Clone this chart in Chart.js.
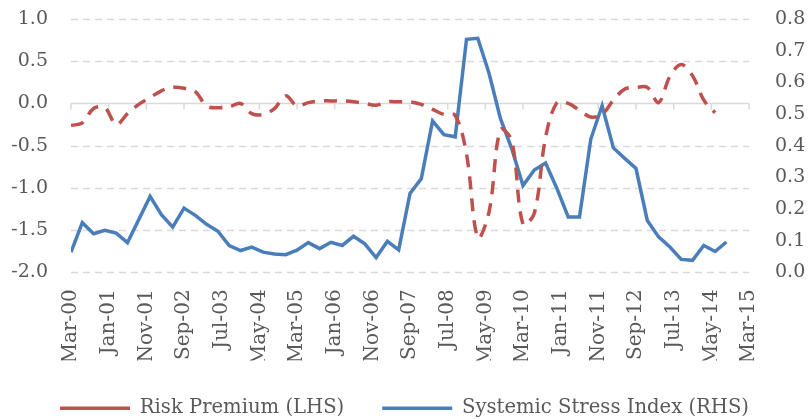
<!DOCTYPE html>
<html>
<head>
<meta charset="utf-8">
<script src="https://cdn.jsdelivr.net/npm/chart.js@4/dist/chart.umd.min.js"></script>
<style>
    body { margin: 0; background: #fff; }
    #wrap { width: 809px; height: 420px; }
</style>
</head>
<body>
<div id="wrap"><canvas id="stressChart" width="809" height="420"></canvas></div>
<script>
// quarterly observations, Mar-00 .. Sep-14
const tickLabels = ['Mar-00', 'Jan-01', 'Nov-01', 'Sep-02', 'Jul-03', 'May-04', 'Mar-05', 'Jan-06', 'Nov-06', 'Sep-07',
    'Jul-08', 'May-09', 'Mar-10', 'Jan-11', 'Nov-11', 'Sep-12', 'Jul-13', 'May-14', 'Mar-15'];

// Risk Premium (LHS)
const riskPremium = [-0.26, -0.23, -0.06, -0.05, -0.25, -0.12, -0.01, 0.07, 0.15, 0.19,
    0.18, 0.14, -0.03, -0.05, -0.04, 0.00, -0.12, -0.13, -0.06, 0.09,
    -0.03, 0.01, 0.03, 0.03, 0.03, 0.02, 0.00, -0.02, 0.02, 0.02,
    0.02, -0.01, -0.07, -0.13, -0.14, -0.60, -1.59, -1.28, -0.31, -0.44,
    -1.43, -1.30, -0.40, 0.01, 0.00, -0.08, -0.16, -0.13, 0.04, 0.17,
    0.19, 0.19, 0.01, 0.32, 0.46, 0.33, 0.04, -0.11, null];

// Systemic Stress Index (RHS)
const stressIndex = [0.064, 0.157, 0.122, 0.133, 0.124, 0.094, 0.167, 0.240, 0.182, 0.143,
    0.203, 0.180, 0.152, 0.130, 0.085, 0.069, 0.080, 0.064, 0.058, 0.056,
    0.070, 0.094, 0.075, 0.095, 0.085, 0.114, 0.090, 0.047, 0.098, 0.071,
    0.249, 0.296, 0.478, 0.435, 0.428, 0.736, 0.739, 0.628, 0.486, 0.391,
    0.274, 0.323, 0.345, 0.265, 0.175, 0.175, 0.421, 0.526, 0.393, 0.360,
    0.328, 0.164, 0.112, 0.080, 0.041, 0.038, 0.085, 0.066, 0.096];

const monthsPerObs = 3;
const fontFam = '"DejaVu Serif", serif';
const textColor = '#595959';
const gridColor = '#d9d9d9';

// months since Mar-00 as x
const toPoints = arr => arr.map((v, i) => ({x: i * monthsPerObs, y: v}));

// dashed gridlines + solid zero line with tick marks (excel style)
const excelGrid = {
    id: 'excelGrid',
    beforeDatasetsDraw(chart) {
        const {ctx, chartArea, scales} = chart;
        ctx.save();
        ctx.strokeStyle = gridColor;
        ctx.lineWidth = 1.5;
        ctx.setLineDash([7, 5]);
        ctx.beginPath();
        scales.y.ticks.forEach(t => {
            if (t.value === 0) return;
            const py = Math.round(scales.y.getPixelForValue(t.value)) + 0.5;
            ctx.moveTo(chartArea.left, py);
            ctx.lineTo(chartArea.right, py);
        });
        ctx.stroke();

        // x axis sits on zero of the LHS
        ctx.setLineDash([]);
        const y0 = Math.round(scales.y.getPixelForValue(0)) + 0.5;
        ctx.beginPath();
        ctx.moveTo(chartArea.left, y0);
        ctx.lineTo(chartArea.right, y0);
        scales.x.ticks.forEach(t => {
            const px = scales.x.getPixelForValue(t.value);
            ctx.moveTo(px, y0);
            ctx.lineTo(px, y0 + 6);
        });
        ctx.stroke();
        ctx.restore();
    }
};

const noPad = s => { s.paddingTop = 0; s.paddingBottom = 0; };

new Chart(document.getElementById('stressChart'), {
    type: 'line',
    data: {
        datasets: [{
            label: 'Risk Premium (LHS)',
            data: toPoints(riskPremium),
            yAxisID: 'y',
            borderColor: '#c0504d',
            backgroundColor: '#c0504d',
            borderWidth: 3.5,
            borderDash: [13, 9],
            tension: 0.35,
            pointRadius: 0
        }, {
            label: 'Systemic Stress Index (RHS)',
            data: toPoints(stressIndex),
            yAxisID: 'y1',
            borderColor: '#4a7ebb',
            backgroundColor: '#4a7ebb',
            borderWidth: 3.5,
            tension: 0,
            pointRadius: 0
        }]
    },
    options: {
        responsive: false,
        animation: false,
        devicePixelRatio: 1,
        layout: {padding: {top: 19, left: 0, right: 0, bottom: -8}},
        scales: {
            x: {
                type: 'linear',
                min: 0, max: 180,
                grid: {display: false, drawTicks: false},
                border: {display: false},
                afterFit: s => { s.height = 88; s.paddingLeft = 0; s.paddingRight = 0; },
                ticks: {
                    stepSize: 10,
                    autoSkip: false,
                    maxRotation: 90, minRotation: 90,
                    padding: 17,
                    color: textColor,
                    font: {family: fontFam, size: 20},
                    callback: v => tickLabels[Math.round(v / 10)]
                }
            },
            y: {
                position: 'left',
                min: -2, max: 1,
                grid: {display: false, drawTicks: false},
                border: {display: false},
                afterFit: s => { s.width = 71; noPad(s); },
                ticks: {
                    stepSize: 0.5,
                    padding: 23,
                    color: textColor,
                    font: {family: fontFam, size: 19},
                    callback: v => v.toFixed(1)
                }
            },
            y1: {
                position: 'right',
                min: 0, max: 0.8,
                grid: {display: false, drawTicks: false},
                border: {display: false},
                afterFit: s => { s.width = 60; noPad(s); },
                ticks: {
                    stepSize: 0.1,
                    padding: 26,
                    color: textColor,
                    font: {family: fontFam, size: 19},
                    callback: v => v.toFixed(1)
                }
            }
        },
        plugins: {
            legend: {
                position: 'bottom',
                labels: {
                    usePointStyle: true,
                    pointStyle: 'line',
                    pointStyleWidth: 70,
                    padding: 38,
                    color: textColor,
                    font: {family: fontFam, size: 19.6}
                }
            },
            tooltip: {enabled: false}
        }
    },
    plugins: [excelGrid]
});
</script>
</body>
</html>
